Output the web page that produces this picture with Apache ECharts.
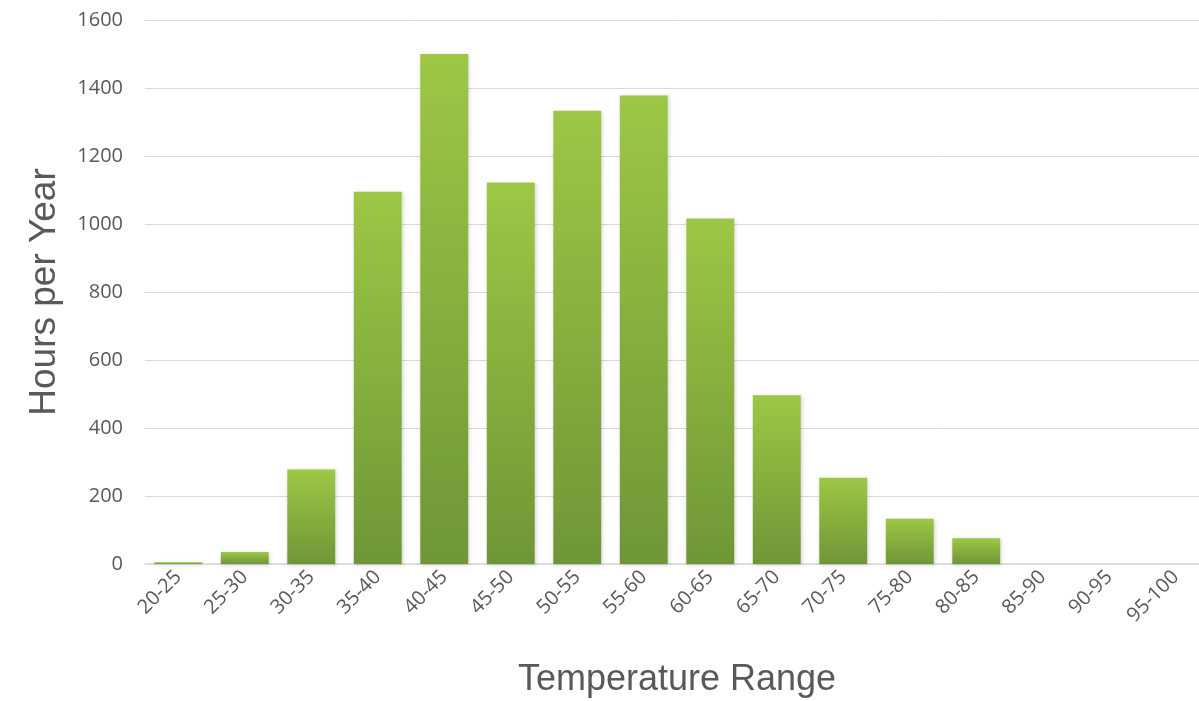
<!DOCTYPE html>
<html>
<head>
<meta charset="utf-8">
<style>
  html, body { margin: 0; padding: 0; background: #ffffff; }
  #chart { width: 1199px; height: 701px; }
</style>
<script src="https://cdn.jsdelivr.net/npm/echarts@6/dist/echarts.min.js"></script>
</head>
<body>
<div id="chart"></div>
<script>
// Annual hours spent in each 5-degree temperature band
const categories = ['20-25', '25-30', '30-35', '35-40', '40-45', '45-50', '50-55', '55-60',
                    '60-65', '65-70', '70-75', '75-80', '80-85', '85-90', '90-95', '95-100'];
const hours = [5, 35, 278, 1095, 1500, 1122, 1333, 1378, 1016, 496, 254, 133, 76, 0, 0, 0];
const yTicks = { min: 0, max: 1600, interval: 200 };

const chart = echarts.init(document.getElementById('chart'), null, { renderer: 'canvas' });

const labelFont = '"Open Sans", "Noto Sans", sans-serif';
const titleFont = '"Liberation Sans", Arial, sans-serif';

chart.setOption({
  animation: false,
  grid: {
    left: 145, top: 20, width: 1064, height: 544,
    containLabel: false,
    outerBoundsMode: 'none'
  },
  xAxis: {
    type: 'category',
    data: categories,
    name: 'Temperature Range',
    nameLocation: 'middle',
    nameGap: 98,
    nameTextStyle: { fontFamily: titleFont, fontSize: 36, color: '#595959' },
    axisLine: { show: true, lineStyle: { color: '#d9d9d9', width: 1.5 } },
    axisTick: { show: false },
    axisLabel: {
      rotate: 45,
      interval: 0,
      margin: 10,
      fontFamily: labelFont,
      fontSize: 20,
      color: '#595959'
    }
  },
  yAxis: {
    type: 'value',
    min: yTicks.min,
    max: yTicks.max,
    interval: yTicks.interval,
    name: 'Hours per Year',
    nameLocation: 'middle',
    nameGap: 82,
    nameTextStyle: { fontFamily: titleFont, fontSize: 37, color: '#595959' },
    axisLine: { show: false },
    axisTick: { show: false },
    axisLabel: {
      margin: 22,
      fontFamily: labelFont,
      fontSize: 20,
      color: '#595959',
      formatter: v => String(v)
    },
    splitLine: { lineStyle: { color: '#d9d9d9', width: 1 } }
  },
  series: [{
    type: 'bar',
    data: hours,
    barCategoryGap: '28%',
    itemStyle: {
      color: new echarts.graphic.LinearGradient(0, 0, 0, 1, [
        { offset: 0, color: '#9dc745' },
        { offset: 1, color: '#6f9636' }
      ]),
      shadowColor: 'rgba(0,0,0,0.18)',
      shadowBlur: 4,
      shadowOffsetX: 1,
      shadowOffsetY: 1
    }
  }]
});
</script>
</body>
</html>
